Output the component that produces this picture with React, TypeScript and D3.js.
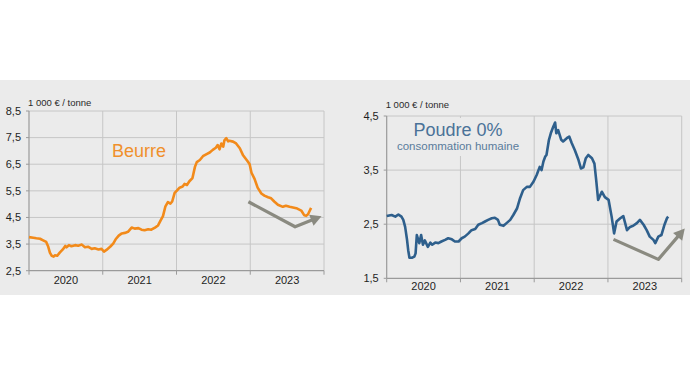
import * as d3 from "d3";
import React from "react";

// months since Jan 2020 / price in 1 000 € per tonne
const butterMonths = [0, 0.7, 1.2, 1.8, 2.3, 2.8, 3.1, 3.4, 3.7, 4.0, 4.2, 4.6, 5.0, 5.5, 5.9, 6.1, 6.5, 6.9, 7.5, 8.0, 8.6, 9.1, 9.6, 10.2, 10.7, 11.3, 11.8, 12.2, 12.6, 13.2, 13.7, 14.1, 14.6, 15.1, 15.6, 16.1, 16.7, 17.2, 17.8, 18.3, 18.8, 19.4, 19.9, 20.5, 21.0, 21.4, 21.8, 22.2, 22.6, 23.0, 23.3, 23.7, 24.1, 24.5, 25.0, 25.3, 25.7, 26.1, 26.6, 27.0, 27.3, 27.8, 28.3, 28.9, 29.4, 29.9, 30.4, 30.7, 31.0, 31.3, 31.6, 31.8, 32.1, 32.4, 32.6, 33.2, 33.7, 34.3, 34.8, 35.6, 35.9, 36.2, 36.7, 37.2, 37.8, 38.3, 38.9, 39.4, 39.9, 40.5, 41.3, 41.8, 42.4, 43.5, 44.3, 44.8, 45.1, 45.4, 45.9];
const butterValues = [3.76, 3.74, 3.72, 3.7, 3.64, 3.58, 3.42, 3.18, 3.06, 3.03, 3.08, 3.06, 3.18, 3.3, 3.43, 3.38, 3.46, 3.42, 3.46, 3.44, 3.48, 3.38, 3.4, 3.32, 3.34, 3.3, 3.32, 3.22, 3.28, 3.4, 3.52, 3.68, 3.82, 3.9, 3.92, 3.96, 4.12, 4.08, 4.1, 4.04, 4.02, 4.06, 4.04, 4.12, 4.2, 4.38, 4.55, 4.92, 5.08, 5.02, 5.1, 5.42, 5.52, 5.62, 5.66, 5.76, 5.72, 5.86, 5.98, 6.4, 6.58, 6.66, 6.8, 6.88, 6.94, 7.04, 7.12, 7.22, 7.06, 7.28, 7.16, 7.4, 7.48, 7.36, 7.38, 7.35, 7.28, 7.1, 6.85, 6.6, 6.5, 6.18, 5.95, 5.62, 5.4, 5.32, 5.26, 5.22, 5.1, 4.98, 4.9, 4.94, 4.9, 4.85, 4.76, 4.58, 4.56, 4.62, 4.86];

const powderMonths = [0, 0.8, 1.4, 1.9, 2.4, 2.7, 3.0, 3.3, 3.5, 3.7, 4.1, 4.5, 4.7, 4.9, 5.3, 5.6, 5.9, 6.2, 6.7, 7.1, 7.4, 7.9, 8.4, 8.9, 9.5, 10.0, 10.6, 11.1, 11.7, 12.2, 12.7, 13.3, 13.8, 14.4, 14.9, 15.5, 16.0, 16.5, 17.1, 17.6, 18.1, 18.4, 19.0, 19.5, 20.1, 20.6, 21.2, 21.7, 22.2, 22.8, 23.3, 23.9, 24.4, 24.9, 25.2, 25.5, 25.8, 26.0, 26.4, 26.7, 27.1, 27.4, 27.6, 27.9, 28.4, 28.7, 29.3, 29.7, 30.1, 30.6, 31.2, 31.6, 32.0, 32.4, 32.8, 33.4, 33.8, 34.1, 34.4, 35.0, 35.5, 36.1, 36.6, 37.0, 37.4, 38.0, 38.5, 39.1, 39.6, 40.1, 40.7, 41.2, 41.8, 42.3, 42.8, 43.4, 43.7, 44.2, 44.7, 45.2, 45.6, 45.8];
const powderValues = [2.65, 2.67, 2.64, 2.68, 2.64, 2.58, 2.45, 2.22, 2.02, 1.88, 1.88, 1.9, 1.96, 2.3, 2.15, 2.3, 2.12, 2.2, 2.08, 2.16, 2.12, 2.16, 2.15, 2.18, 2.21, 2.24, 2.22, 2.18, 2.18, 2.24, 2.27, 2.33, 2.39, 2.41, 2.49, 2.52, 2.55, 2.58, 2.61, 2.62, 2.58, 2.49, 2.47, 2.52, 2.58, 2.67, 2.79, 2.98, 3.13, 3.19, 3.19, 3.29, 3.41, 3.56, 3.5, 3.66, 3.75, 3.78, 4.06, 4.18, 4.3, 4.38, 4.18, 4.24, 4.06, 4.03, 4.09, 4.12, 4.0, 3.87, 3.69, 3.53, 3.55, 3.72, 3.78, 3.72, 3.62, 3.3, 2.95, 3.1, 3.0, 2.95, 2.64, 2.33, 2.55, 2.61, 2.65, 2.39, 2.45, 2.47, 2.52, 2.58, 2.49, 2.39, 2.27, 2.21, 2.15, 2.27, 2.3, 2.49, 2.61, 2.64];

const years = ["2020", "2021", "2022", "2023"];
const butterTicks = [2.5, 3.5, 4.5, 5.5, 6.5, 7.5, 8.5];
const powderTicks = [1.5, 2.5, 3.5, 4.5];

// trend arrows (month, value)
const butterArrowMonths = [35.7, 43.3, 47.6];
const butterArrowValues = [5.09, 4.15, 4.55];
const powderArrowMonths = [36.9, 44.2, 48.5];
const powderArrowValues = [2.22, 1.85, 2.42];

const FONT = "'Liberation Sans', Arial, sans-serif";
const BG = "#ebebeb";

function Panel({ left, right, top, bottom, ticks, months, values, color, arrowM, arrowV, unitDy, yearDy, children }) {
    const x = d3.scaleLinear().domain([0, 48]).range([left, right]);
    const y = d3.scaleLinear().domain([ticks[0], ticks[ticks.length - 1]]).range([bottom, top]);
    const line = d3.line().x((d) => x(d[0])).y((d) => y(d[1]));
    const pts = months.map((m, i) => [m, values[i]]);
    const arrowPts = arrowM.map((m, i) => [x(m), y(arrowV[i])]);
    const n = arrowPts.length;
    const [ax, ay] = arrowPts[n - 1];
    const [px, py] = arrowPts[n - 2];
    const ang = Math.atan2(ay - py, ax - px);
    const headLen = 11, headW = 6;
    const bx = ax - headLen * Math.cos(ang), by = ay - headLen * Math.sin(ang);
    const head = [
        [ax, ay],
        [bx + headW * Math.sin(ang), by - headW * Math.cos(ang)],
        [bx - headW * Math.sin(ang), by + headW * Math.cos(ang)],
    ];
    const shaft = arrowPts.slice(0, n - 1).concat([[bx + 2 * Math.cos(ang), by + 2 * Math.sin(ang)]]);
    const fmt = (v) => String(v).replace(".", ",");

    return (
        <g fontFamily={FONT}>
            {/* horizontal grid */}
            {ticks.slice(1).map((t) => (
                <line key={"h" + t} x1={left} x2={right} y1={y(t)} y2={y(t)} stroke="#c6c6c6" strokeWidth={1} />
            ))}
            {/* vertical grid */}
            {[12, 24, 36, 48].map((m) => (
                <line key={"v" + m} x1={x(m)} x2={x(m)} y1={top} y2={bottom} stroke="#c6c6c6" strokeWidth={1} />
            ))}
            {children}
            {/* axes */}
            <line x1={left} x2={left} y1={top} y2={bottom} stroke="#9a9a9a" strokeWidth={1.2} />
            <line x1={left} x2={right} y1={bottom} y2={bottom} stroke="#9a9a9a" strokeWidth={1.2} />
            {ticks.map((t) => (
                <g key={"t" + t}>
                    <line x1={left - 3} x2={left} y1={y(t)} y2={y(t)} stroke="#9a9a9a" />
                    <text x={left - 8} y={y(t)} dy="0.35em" textAnchor="end" fontSize={11} fill="#1e1e1e">
                        {fmt(t)}
                    </text>
                </g>
            ))}
            {[0, 12, 24, 36, 48].map((m) => (
                <line key={"xt" + m} x1={x(m)} x2={x(m)} y1={bottom} y2={bottom + 4} stroke="#9a9a9a" />
            ))}
            {years.map((yr, i) => (
                <text key={yr} x={x(i * 12 + 6)} y={bottom + yearDy} textAnchor="middle" fontSize={11} fill="#1e1e1e">
                    {yr}
                </text>
            ))}
            <text x={left - 1} y={top + unitDy} fontSize={9.5} fill="#2a2a2a">
                1 000 €  / tonne
            </text>
            {/* series */}
            <path d={line(pts)} fill="none" stroke={color} strokeWidth={2.6} strokeLinejoin="round" />
            {/* trend arrow */}
            <path d={d3.line()(shaft)} fill="none" stroke="#8a8a80" strokeWidth={3.2} strokeLinejoin="round" />
            <path d={d3.line()(head) + "Z"} fill="#8a8a80" />
        </g>
    );
}

export default function App() {
    return (
        <svg width={690} height={384} style={{ position: "absolute", left: 0, top: 0, background: "#fff" }}>
            <rect x={0} y={80} width={690} height={215} fill={BG} />
            <Panel
                left={29} right={324} top={111} bottom={270.7}
                ticks={butterTicks} months={butterMonths} values={butterValues}
                color="#f28a1a" arrowM={butterArrowMonths} arrowV={butterArrowValues}
                unitDy={-5} yearDy={13}
            >
                <text x={112} y={157} fontSize={18} fill="#f0902c" fontFamily={FONT}>Beurre</text>
            </Panel>
            <Panel
                left={386.7} right={681.7} top={116} bottom={278.3}
                ticks={powderTicks} months={powderMonths} values={powderValues}
                color="#2e5f8c" arrowM={powderArrowMonths} arrowV={powderArrowValues}
                unitDy={-8} yearDy={12}
            >
                <rect x={392} y={118} width={136} height={38} fill={BG} />
                <text x={458} y={136} textAnchor="middle" fontSize={18} fill="#4a7298" fontFamily={FONT}>Poudre 0%</text>
                <text x={458} y={150} textAnchor="middle" fontSize={11.5} fill="#5a7c9c" fontFamily={FONT}>consommation humaine</text>
            </Panel>
        </svg>
    );
}
